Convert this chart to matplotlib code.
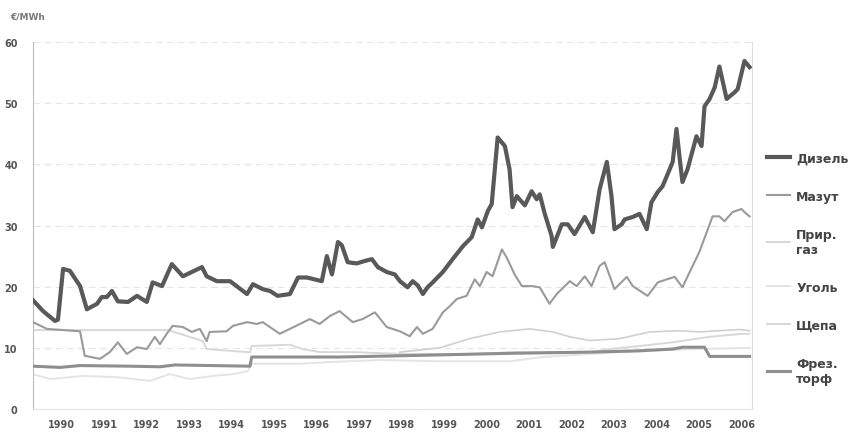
import numpy as np
import matplotlib
matplotlib.use('Agg')
import matplotlib.pyplot as plt

plt.rcParams['font.family'] = ['DejaVu Sans']

# годы (дробные), значения в €/MWh
diesel_t = [1990.00, 1990.24, 1990.52, 1990.59, 1990.71, 1990.87, 1991.11, 1991.27, 1991.51, 1991.62,
            1991.74, 1991.86, 1992.00, 1992.24, 1992.45, 1992.68, 1992.82, 1993.04, 1993.27, 1993.53,
            1993.98, 1994.09, 1994.33, 1994.64, 1995.04, 1995.18, 1995.41, 1995.58, 1995.76, 1996.05,
            1996.24, 1996.45, 1996.80, 1996.92, 1997.04, 1997.18, 1997.27, 1997.41, 1997.62, 1997.81,
            1997.98, 1998.12, 1998.33, 1998.52, 1998.64, 1998.82, 1998.94, 1999.06, 1999.18, 1999.29,
            1999.41, 1999.65, 1999.88, 2000.12, 2000.33, 2000.47, 2000.57, 2000.71, 2000.80, 2000.94,
            2001.11, 2001.22, 2001.29, 2001.39, 2001.58, 2001.74, 2001.86, 2001.93, 2002.05, 2002.21,
            2002.24, 2002.45, 2002.59, 2002.75, 2002.99, 2003.18, 2003.34, 2003.51, 2003.62, 2003.69,
            2003.86, 2003.93, 2004.12, 2004.28, 2004.45, 2004.56, 2004.71, 2004.82, 2004.99, 2005.06,
            2005.15, 2005.22, 2005.29, 2005.41, 2005.62, 2005.74, 2005.81, 2005.93, 2006.05, 2006.16,
            2006.33, 2006.52, 2006.59, 2006.75, 2006.87]
diesel = [17.8, 16.0, 14.4, 14.6, 22.9, 22.6, 20.1, 16.3, 17.2, 18.3,
          18.3, 19.3, 17.6, 17.5, 18.5, 17.5, 20.7, 20.1, 23.7, 21.7,
          23.2, 21.7, 20.9, 20.9, 18.8, 20.4, 19.6, 19.3, 18.5, 18.8,
          21.5, 21.5, 20.9, 25.0, 22.0, 27.3, 26.8, 24.0, 23.8, 24.2,
          24.5, 23.2, 22.4, 22.0, 20.9, 19.9, 20.9, 20.2, 18.8, 19.9,
          20.7, 22.4, 24.5, 26.6, 28.1, 31.0, 29.7, 32.4, 33.5, 44.4,
          43.0, 39.2, 33.0, 34.8, 33.3, 35.6, 34.3, 35.1, 31.9, 28.3,
          26.5, 30.2, 30.2, 28.6, 31.4, 28.9, 35.9, 40.4, 34.8, 29.4,
          30.2, 31.0, 31.4, 31.9, 29.4, 33.8, 35.5, 36.4, 39.2, 40.4,
          45.8, 41.3, 37.1, 39.2, 44.6, 43.0, 49.5, 50.7, 52.6, 56.0,
          50.7, 51.8, 52.3, 56.9, 55.9]

mazut_t = [1990.00, 1990.33, 1991.11, 1991.22, 1991.58, 1991.81, 1992.00, 1992.21, 1992.45, 1992.68,
           1992.87, 1992.99, 1993.15, 1993.29, 1993.53, 1993.74, 1993.93, 1994.09, 1994.16, 1994.56,
           1994.71, 1995.04, 1995.27, 1995.41, 1995.81, 1996.05, 1996.52, 1996.75, 1996.99, 1997.22,
           1997.53, 1997.76, 1998.05, 1998.33, 1998.64, 1998.87, 1999.04, 1999.18, 1999.41, 1999.65,
           1999.81, 1999.98, 2000.21, 2000.40, 2000.52, 2000.68, 2000.82, 2001.04, 2001.15, 2001.34,
           2001.51, 2001.74, 2001.93, 2002.16, 2002.33, 2002.64, 2002.80, 2002.99, 2003.15, 2003.34,
           2003.46, 2003.58, 2003.69, 2003.98, 2004.12, 2004.47, 2004.71, 2004.92, 2005.11, 2005.29,
           2005.53, 2005.69, 2006.00, 2006.16, 2006.28, 2006.47, 2006.68, 2006.75, 2006.87]
mazut = [14.2, 13.1, 12.7, 8.7, 8.2, 9.3, 10.9, 9.0, 10.1, 9.8,
         11.8, 10.6, 12.3, 13.6, 13.4, 12.6, 13.1, 11.1, 12.6, 12.7,
         13.6, 14.2, 13.9, 14.2, 12.3, 13.1, 14.7, 13.9, 15.2, 16.0,
         14.2, 14.7, 15.8, 13.4, 12.7, 11.9, 13.4, 12.3, 13.1, 15.8,
         16.8, 18.0, 18.5, 21.2, 20.1, 22.4, 21.7, 26.1, 24.8, 22.0,
         20.1, 20.1, 19.9, 17.2, 18.8, 20.9, 20.1, 21.7, 20.1, 23.4,
         24.0, 21.7, 19.6, 21.6, 20.1, 18.5, 20.7, 21.2, 21.6, 19.9,
         23.4, 25.7, 31.5, 31.5, 30.7, 32.2, 32.7, 32.2, 31.5]

gas_t = [1990.00, 1993.18, 1993.46, 1994.00, 1994.09, 1995.04, 1995.11, 1995.15, 1996.05, 1996.35,
         1996.75, 1997.53, 1998.71, 2000.28, 2001.39, 2003.11, 2003.58, 2004.28, 2005.06, 2005.93,
         2006.71, 2006.87]
gas = [12.9, 12.9, 12.3, 11.1, 9.8, 9.3, 9.3, 10.3, 10.5, 9.8,
       9.3, 9.3, 9.0, 9.0, 9.3, 9.3, 9.8, 10.3, 10.9, 11.8,
       12.3, 12.3]

coal_t = [1990.00, 1990.40, 1991.18, 1991.98, 1992.75, 1993.22, 1993.69, 1994.24, 1994.71, 1995.06,
          1995.15, 1996.28, 1997.06, 1998.16, 1999.65, 2001.22, 2002.00, 2003.11, 2004.28, 2005.69,
          2006.87]
coal = [5.7, 4.9, 5.4, 5.2, 4.6, 5.7, 4.9, 5.4, 5.7, 6.2,
        7.4, 7.4, 7.7, 8.0, 7.8, 7.8, 8.5, 9.0, 9.5, 9.8,
        10.0]

chips_t = [1998.64, 1999.58, 2000.28, 2000.99, 2001.69, 2002.24, 2002.64, 2003.11, 2003.81, 2004.52,
           2005.22, 2005.69, 2006.16, 2006.64, 2006.87]
chips = [9.3, 10.0, 11.5, 12.6, 13.1, 12.6, 11.8, 11.2, 11.5, 12.6,
         12.8, 12.6, 12.8, 13.0, 12.8]

peat_t = [1990.00, 1990.64, 1991.11, 1992.28, 1992.99, 1993.34, 1995.11, 1995.15, 1997.22, 1998.64,
          2001.22, 2003.11, 2004.24, 2005.06, 2005.29, 2005.81, 2005.93, 2006.87]
peat = [7.0, 6.8, 7.1, 7.0, 6.9, 7.2, 7.0, 8.5, 8.5, 8.7,
        9.1, 9.3, 9.5, 9.8, 10.1, 10.1, 8.6, 8.6]

years = list(range(1990, 2007))
label_shift = 0.68  # подписи годов стоят не на начале года

fig = plt.figure(figsize=(8.66, 4.35), dpi=100)
ax = fig.add_axes([0.038, 0.0575, 0.830, 0.8435])

ax.plot(coal_t, coal, color='#e4e4e4', lw=1.4, label='Уголь', zorder=2)
ax.plot(gas_t, gas, color='#d8d8d8', lw=1.4, label='Прир.\nгаз', zorder=2)
ax.plot(chips_t, chips, color='#d0d0d0', lw=1.2, label='Щепа', zorder=2)
ax.plot(peat_t, peat, color='#8e8e8e', lw=2.2, label='Фрез.\nторф', zorder=3)
ax.plot(mazut_t, mazut, color='#9a9a9a', lw=1.5, label='Мазут', zorder=4)
ax.plot(diesel_t, diesel, color='#595959', lw=3.0, label='Дизель', zorder=5)

ax.set_xlim(1990.0, 2006.92)
ax.set_ylim(0, 60)
ax.set_yticks(range(0, 61, 10))
ax.set_xticks([y + label_shift for y in years])
ax.set_xticklabels([str(y) for y in years])
ax.tick_params(axis='both', length=0, labelsize=7, labelcolor='#555555')
for lab in ax.get_xticklabels() + ax.get_yticklabels():
    lab.set_fontweight('bold')
ax.tick_params(axis='x', pad=7)
ax.tick_params(axis='y', pad=11)

ax.grid(axis='y', color='#e6e6e6', lw=0.8, ls=(0, (6, 4)))
ax.spines['top'].set_visible(False)
ax.spines['left'].set_color('#bdbdbd')
ax.spines['right'].set_color('#dddddd')
ax.spines['bottom'].set_color('#e4e4e4')

fig.text(0.012, 0.955, '€/MWh', fontsize=6.5, fontweight='bold', color='#777777')

handles, labels = ax.get_legend_handles_labels()
order = ['Дизель', 'Мазут', 'Прир.\nгаз', 'Уголь', 'Щепа', 'Фрез.\nторф']
hl = dict(zip(labels, handles))
leg = ax.legend([hl[k] for k in order], order, loc='center left',
                bbox_to_anchor=(1.015, 0.384), frameon=False, borderaxespad=0,
                prop={'size': 9, 'weight': 'bold'}, labelspacing=2.0,
                handlelength=1.8, handletextpad=0.5)
for t in leg.get_texts():
    t.set_color('#444444')

fig.savefig('out.png', dpi=100, facecolor='white')
